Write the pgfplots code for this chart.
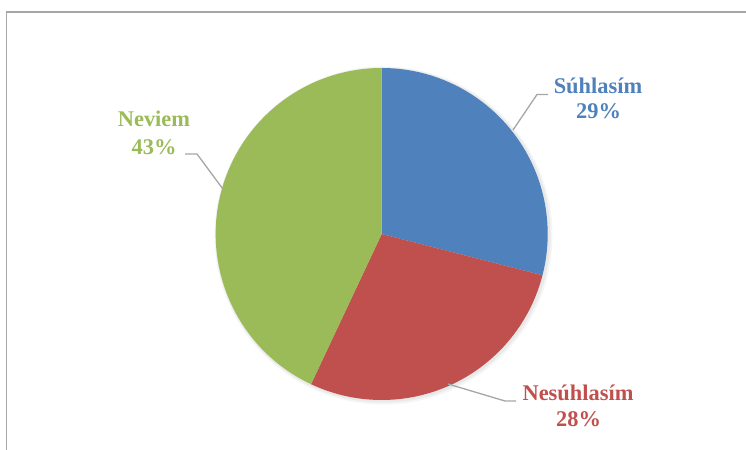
\documentclass[border=0pt]{standalone}
\usepackage{fontspec}
\setmainfont{Liberation Serif}
\usepackage{pgfplots}
\usepackage{pgfplotstable}
\pgfplotsset{compat=1.18}
\definecolor{cblue}{HTML}{4F81BD}
\definecolor{cred}{HTML}{C0504D}
\definecolor{cgreen}{HTML}{9BBB59}
\definecolor{cframe}{HTML}{A6A6A6}
\pgfplotstableread{
label value
Súhlasím 29
Nesúhlasím 28
Neviem 43
}\piedata
\tikzset{lbl/.style={anchor=base, inner sep=0pt, font=\fontsize{22.5}{26}\selectfont\bfseries}}
\begin{document}
\begin{tikzpicture}
\pgfplotstablegetelem{0}{value}\of\piedata \pgfmathsetmacro{\va}{\pgfplotsretval}
\pgfplotstablegetelem{1}{value}\of\piedata \pgfmathsetmacro{\vb}{\pgfplotsretval}
\pgfplotstablegetelem{2}{value}\of\piedata \pgfmathsetmacro{\vc}{\pgfplotsretval}
\pgfmathsetmacro{\tot}{\va+\vb+\vc}
\pgfmathsetmacro{\aA}{90-360*\va/\tot}
\pgfmathsetmacro{\aB}{\aA-360*\vb/\tot}
\begin{axis}[name=ax, scale only axis, width=746bp, height=450bp,
  xmin=0, xmax=746, ymin=0, ymax=450, y dir=reverse, hide axis, clip=false]
% frame
\draw[cframe, line width=1.5bp] (axis cs:6.5,450) -- (axis cs:6.5,12) -- (axis cs:746,12);
% soft shadow
\fill[black, opacity=0.04] (axis cs:383.5,235.5) circle[radius=169bp];
\fill[black, opacity=0.05] (axis cs:383,235) circle[radius=167.5bp];
% slices
\fill[cblue] (axis cs:381.7,234) -- ++(90:166bp) arc[start angle=90, end angle=\aA, radius=166bp] -- cycle;
\fill[cred] (axis cs:381.7,234) -- ++(\aA:166bp) arc[start angle=\aA, end angle=\aB, radius=166bp] -- cycle;
\fill[cgreen] (axis cs:381.7,234) -- ++(\aB:166bp) arc[start angle=\aB, end angle=-270, radius=166bp] -- cycle;
% leader lines
\draw[cframe, line width=1.3bp] (axis cs:513,130) -- (axis cs:537,94.5) -- (axis cs:548,94.5);
\draw[cframe, line width=1.3bp] (axis cs:448,384) -- (axis cs:505,401) -- (axis cs:516,401);
\draw[cframe, line width=1.3bp] (axis cs:222.5,188.5) -- (axis cs:197,154) -- (axis cs:185,154);
% labels
\node[lbl, cblue] at (axis cs:598,94) {Súhlasím};
\node[lbl, cblue] at (axis cs:598.5,119) {29\%};
\node[lbl, cred] at (axis cs:578,401) {Nesúhlasím};
\node[lbl, cred] at (axis cs:578.5,427) {28\%};
\node[lbl, cgreen] at (axis cs:154,127) {Neviem};
\node[lbl, cgreen] at (axis cs:154,155) {43\%};
\end{axis}
\pgfresetboundingbox
\useasboundingbox (ax.south west) rectangle (ax.north east);
\end{tikzpicture}
\end{document}
